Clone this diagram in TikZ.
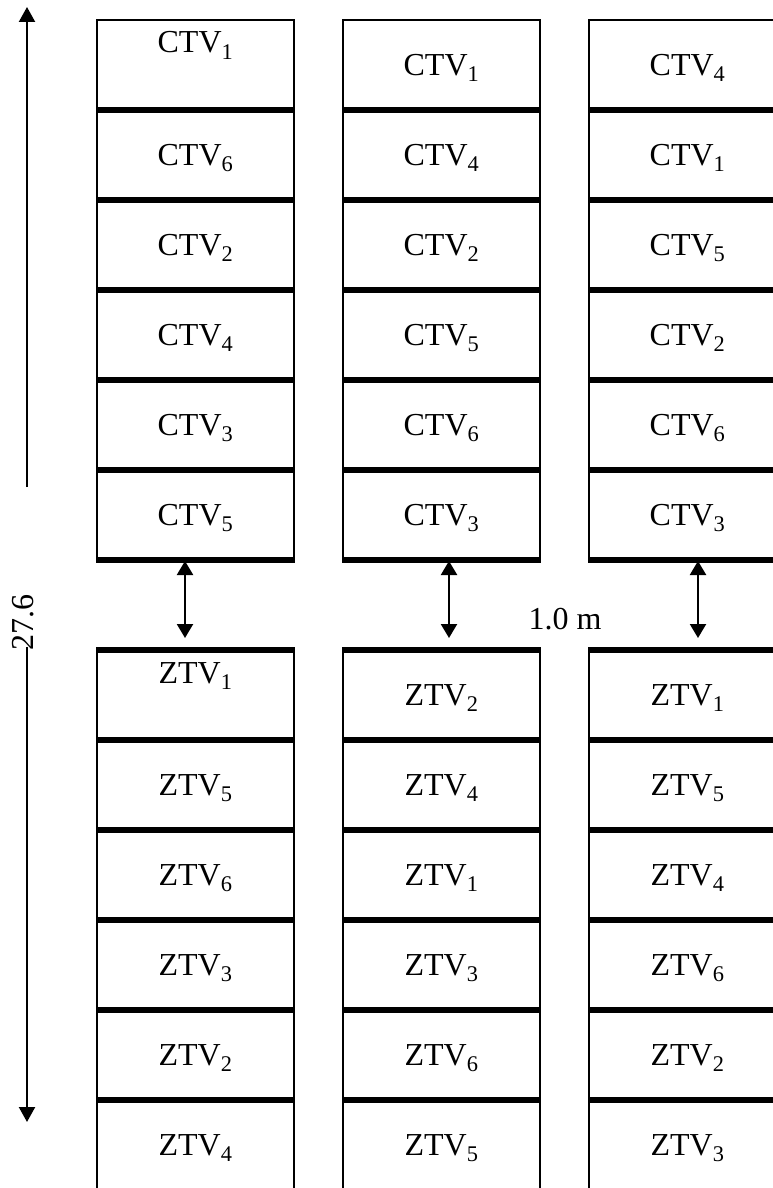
\documentclass[tikz,border=0pt]{standalone}
\usepackage{fontspec}
\setmainfont{Liberation Serif}
\usetikzlibrary{arrows.meta}

\tikzset{
  frame/.style={line width=2.5pt},
  sepline/.style={line width=5.5pt},
  gaparrow/.style={{Triangle[width=16pt,length=14pt]}-{Triangle[width=16pt,length=14pt]}, line width=2.2pt},
  dimarrow/.style={-{Triangle[width=16pt,length=15pt]}, line width=2.2pt},
  plotlabel/.style={font=\fontsize{32}{36}\selectfont, inner sep=0pt, anchor=base},
}

\begin{document}
\begin{tikzpicture}[x=1pt, y=-1pt]
            \useasboundingbox (0,0) rectangle (773,1188);
            \clip (0,0) rectangle (773,1188);

            % Plot columns
            \foreach \x in {97,343,589}{
              \draw[frame] (\x,560) -- (\x,20) -- (\x+197,20) -- (\x+197,560);
              \foreach \y in {110,200,...,560} \draw[sepline] (\x-1,\y) -- (\x+198,\y);
              \draw[frame] (\x,650) -- (\x,1200) (\x+197,650) -- (\x+197,1200);
              \foreach \y in {650,740,...,1100} \draw[sepline] (\x-1,\y) -- (\x+198,\y);
            }

            % CTV rows
            \foreach \r/\a/\b/\c in {1/1/1/4, 2/6/4/1, 3/2/2/5, 4/4/5/2, 5/3/6/6, 6/5/3/3}{
              \pgfmathsetmacro\ya{\r==1 ? 53 : 90*\r-14.5}
              \node[plotlabel] (ctvA\r) at (195.5,\ya) {CTV\textsubscript{\a}};
              \node[plotlabel] (ctvB\r) at (441.5,90*\r-14.5) {CTV\textsubscript{\b}};
              \node[plotlabel] (ctvC\r) at (687.5,90*\r-14.5) {CTV\textsubscript{\c}};
            }

            % ZTV rows
            \foreach \r/\a/\b/\c in {1/1/2/1, 2/5/4/5, 3/6/1/4, 4/3/3/6, 5/2/6/2, 6/4/5/3}{
              \pgfmathsetmacro\ya{\r==1 ? 683 : 90*\r+615.5}
              \node[plotlabel] (ztvA\r) at (195.5,\ya) {ZTV\textsubscript{\a}};
              \node[plotlabel] (ztvB\r) at (441.5,90*\r+615.5) {ZTV\textsubscript{\b}};
              \node[plotlabel] (ztvC\r) at (687.5,90*\r+615.5) {ZTV\textsubscript{\c}};
            }

            % Spacing between blocks
            \coordinate (gaptopA) at (185,561);
            \coordinate (gapbotA) at (185,638);
            \coordinate (gaptopB) at (449,561);
            \coordinate (gapbotB) at (449,638);
            \coordinate (gaptopC) at (698,561);
            \coordinate (gapbotC) at (698,638);
            \draw[gaparrow] (gaptopA) -- (gapbotA);
            \draw[gaparrow] (gaptopB) -- (gapbotB);
            \draw[gaparrow] (gaptopC) -- (gapbotC);
            \node[font=\fontsize{32}{36}\selectfont, inner sep=0pt] (gaplabel) at (565,619) {1.0 m};

            % Length of the plot
            \coordinate (dimtop) at (27,7);
            \coordinate (dimup) at (27,487);
            \coordinate (dimdown) at (27,647);
            \coordinate (dimbot) at (27,1122);
            \draw[dimarrow] (dimup) -- (dimtop);
            \draw[dimarrow] (dimdown) -- (dimbot);
            \node[font=\fontsize{32}{36}\selectfont, inner sep=0pt, rotate=90] (dimlabel) at (23,622) {27.6};
        \end{tikzpicture}
\end{document}
